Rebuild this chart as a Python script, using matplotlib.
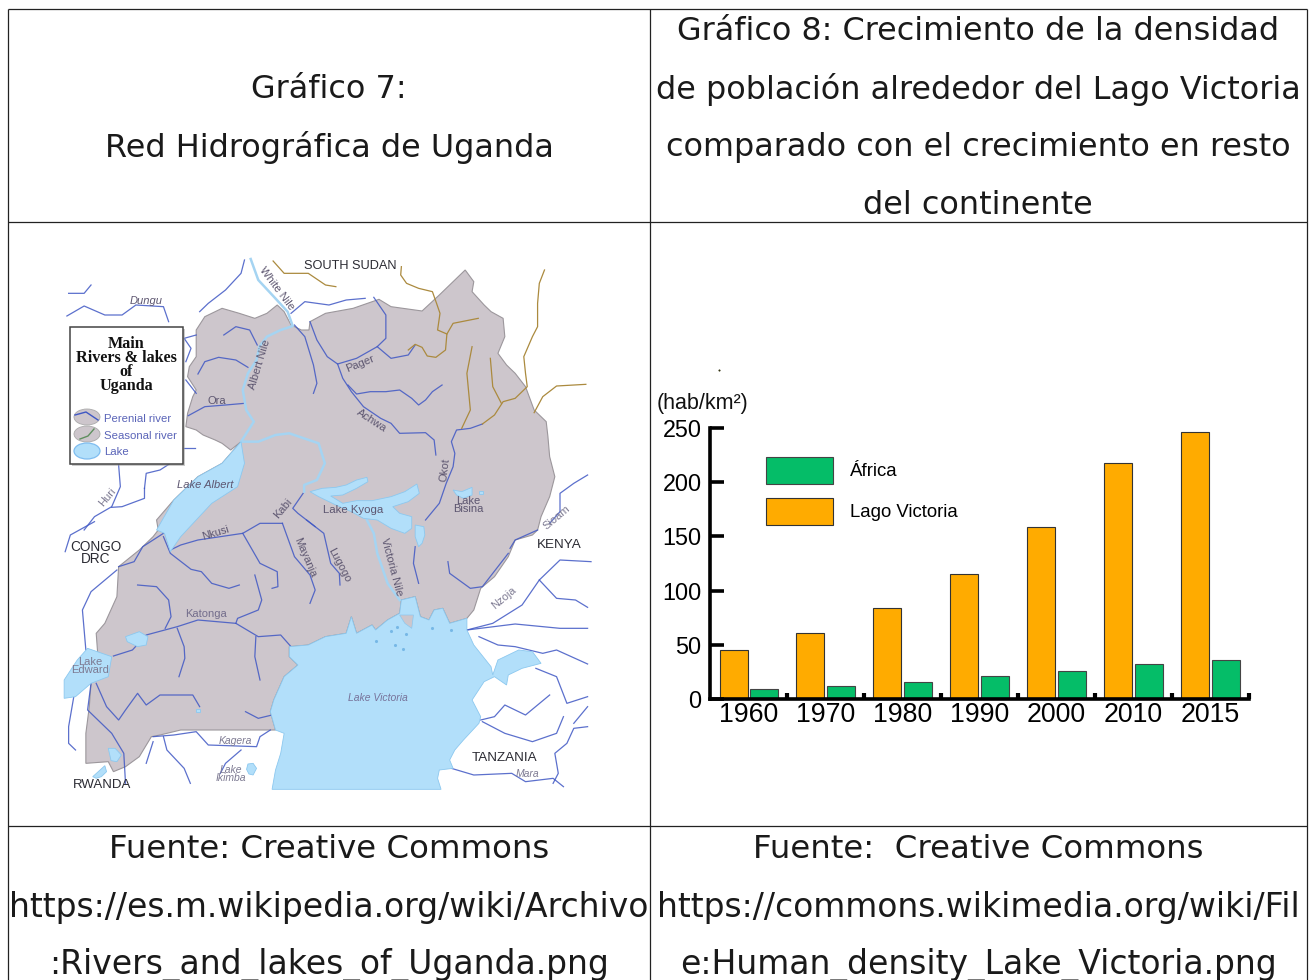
import matplotlib
matplotlib.use("Agg")
import matplotlib.pyplot as plt
from matplotlib.patches import Polygon, Rectangle, Ellipse

W, H = 1309, 980
SX = 2.9
SY = 3.0

# ---------------- chart data ----------------
years = ["1960", "1970", "1980", "1990", "2000", "2010", "2015"]
lago_victoria = [45, 61, 84, 115, 159, 218, 246]
africa = [9, 12, 16, 21, 26, 32, 36]
y_ticks = [0, 50, 100, 150, 200, 250]

title_left = ["Gráfico 7:", "Red Hidrográfica de Uganda"]
title_right = ["Gráfico 8: Crecimiento de la densidad",
               "de población alrededor del Lago Victoria",
               "comparado con el crecimiento en resto",
               "del continente"]
source_left = ["Fuente: Creative Commons",
               "https://es.m.wikipedia.org/wiki/Archivo",
               ":Rivers_and_lakes_of_Uganda.png"]
source_right = ["Fuente:  Creative Commons",
                "https://commons.wikimedia.org/wiki/Fil",
                "e:Human_density_Lake_Victoria.png"]
source_sizes = [23.3, 23.75, 23.75]

# ---------------- map geometry ----------------
def n(pts):
    return [(60 + x / SX, 250 + y / SY) for x, y in pts]

def s(pts):
    return [(60 + x / SX, 520 + y / SY) for x, y in pts]

land = n([(525,575),(495,600),(470,580),(450,570),(415,555),(395,540),(365,530),(370,490),(385,440),
          (395,420),(370,380),(375,350),(395,320),(395,270),(395,240),(420,200),(470,175),(520,190),
          (565,205),(600,190),(630,165),(650,185),(670,225),(700,240),(722,240),(725,215),(770,190),
          (850,175),(925,148),(960,170),(1050,183),(1100,135),(1175,60),(1200,95),(1195,125),(1230,165),
          (1250,185),(1285,205),(1290,260),(1270,310),(1295,345),(1320,370),(1350,410),(1375,480),
          (1410,515),(1415,560),(1420,620),(1435,680),(1420,740),(1395,800)]) + \
       s([(1385,30),(1370,45),(1320,60),(1300,110),(1260,170),(1220,205),(1200,270),(1180,295),
          (1130,310),(1110,265),(1085,270),(1070,300),(1045,290),(1030,230),(990,240),(985,280),
          (950,300),(915,330),(905,315),(860,340),(845,290),(830,340),(770,350),(720,375),(665,380),
          (665,410),(690,435),(650,470),(620,540),(610,575),(625,630),(350,630),(290,645),(265,650),
          (230,710),(190,740),(155,755),(140,725),(75,730),(75,640),(85,560),(90,490),(110,410),
          (105,340),(130,310),(165,230),(170,140),(230,90),(270,50),(285,30),(280,0)]) + \
       n([(330,750),(400,680),(470,640)])

lakes = [
    n([(525,575),(535,640),(515,710),(440,760),(395,810),(350,860),(320,905),(303,850),
       (280,840),(330,750),(400,680),(470,640)]),
    s([(1180,295),(1180,330),(1200,375),(1250,440),(1255,465),(1270,420),(1330,390),(1370,395),
       (1395,430),(1340,445),(1300,465),(1295,495),(1260,470),(1230,485),(1195,540),(1220,590),
       (1215,610),(1170,660),(1145,690),(1130,720),(1140,745),(1100,750),(1095,775),(1105,808),
       (615,808),(625,750),(640,700),(650,640),(625,630),(610,575),(620,540),(650,470),(690,435),
       (665,410),(665,380),(720,375),(770,350),(830,340),(845,290),(860,340),(905,315),(915,330),
       (950,300),(985,280),(990,240),(1030,230),(1045,290),(1070,300),(1085,270),(1110,265),(1130,310)]),
    s([(12,480),(50,420),(80,385),(150,410),(140,470),(90,490),(45,530),(12,535)]),
    n([(725,725),(760,715),(800,712),(830,705),(860,690),(890,682),(893,695),(860,715),(820,735),
       (785,738),(820,760),(860,752),(905,752),(960,740),(1000,725),(1035,702),(1042,730),(1010,755),
       (965,770),(985,790),(1020,800),(1020,835),(1000,850),(960,835),(920,810),(880,805),(845,785),
       (800,765),(750,740)]),
    n([(1140,720),(1165,725),(1195,712),(1195,735),(1170,745),(1150,735)]),
    n([(1215,722),(1227,722),(1227,733),(1215,733)]),
    s([(190,350),(230,335),(255,350),(250,375),(225,380),(195,365)]),
    s([(140,685),(160,685),(178,705),(165,725),(148,722)]),
    s([(95,770),(130,737),(135,755),(120,770),(105,775)]),
    s([(545,732),(560,730),(570,745),(560,765),(548,762),(541,748)]),
    s([(1030,15),(1055,20),(1058,45),(1050,70),(1040,80),(1030,50)]),
    s([(393,566),(405,566),(405,575),(393,575)]),
]
islands = [s([(985,285),(1025,285),(1020,325),(1000,310)])]
lake_dots = s([(917,362),(972,375),(995,387),(1002,343),(978,322),(960,333),(1080,325),(1135,330)])

nile = [
    n([(553,27),(575,90),(620,140),(660,185),(675,228),(640,240),(600,260),(578,290),(570,330),(545,370),
       (530,420),(540,480),(562,515),(525,575),(575,575),(625,555),(665,550),(750,580),(768,640),
       (745,690),(708,705),(708,725)]),
    s([(890,0),(910,40),(920,100),(950,190),(985,240)]),
]
perennial = [
    n([(535,30),(525,70),(480,120),(430,160),(405,185)]),
    n([(25,130),(70,130),(90,105)]),
    n([(20,198),(70,168),(130,195),(180,195),(220,165),(300,170),(315,215)]),
    n([(670,190),(710,155),(780,165),(830,150),(885,145)]),
    n([(910,142),(945,195),(945,265),(920,290),(860,325),(805,342),(775,320),(745,270),(725,215)]),
    n([(920,290),(960,325),(1010,315),(1030,285)]),
    n([(680,225),(710,260),(735,345),(745,400),(735,430)]),
    n([(475,255),(510,230),(550,240),(572,285)]),
    n([(400,372),(420,335),(460,322),(510,330),(545,352)]),
    n([(372,497),(420,470),(480,465),(535,460)]),
    n([(805,342),(820,385),(845,425),(880,470),(930,505),(960,520),(985,550),(1060,548),(1085,570),(1090,615)]),
    n([(835,405),(860,432),(900,425),(945,425),(985,420),(1020,445),(1040,465),(1060,450),(1080,425),(1108,405)]),
    n([(1225,522),(1190,535),(1150,540),(1135,575),(1145,610),(1140,650),(1120,700),(1100,760),(1060,810)]),
    n([(395,255),(360,265),(380,295),(365,335)]),
    n([(365,390),(395,430)]),
    n([(360,595),(392,595)]),
    n([(170,645),(175,710),(150,770),(100,800),(70,840)]),
    n([(245,715),(250,670),(290,660),(320,640)]),
    n([(245,715),(245,745),(180,770),(150,772)]),
    n([(1530,675),(1490,700),(1450,730),(1450,785),(1420,820)]),
    n([(705,730),(675,775),(690,790),(740,830)]),
    s([(15,95),(30,45),(100,5)]),
    s([(170,140),(215,125),(240,80),(300,40)]),
    s([(165,150),(90,215),(65,270),(75,390)]),
    s([(300,50),(320,100),(380,148),(410,155),(440,190),(490,205),(520,195)]),
    s([(320,90),(350,75),(400,60),(530,40),(580,10),(645,10)]),
    s([(530,40),(580,130),(630,155),(632,200),(615,205)]),
    s([(645,10),(680,110),(725,165),(740,210),(725,250)]),
    s([(715,0),(765,40),(785,130),(810,160),(812,195)]),
    s([(565,165),(585,240),(575,270),(515,295),(510,310)]),
    s([(225,195),(280,200),(315,240),(322,290),(305,325)]),
    s([(155,408),(210,390),(250,345),(340,320),(400,300),(510,310),(575,350),(640,345),(670,380)]),
    s([(340,325),(360,380),(362,415),(345,470)]),
    s([(568,350),(565,410),(580,480)]),
    s([(105,490),(135,560),(170,600),(190,570),(225,520),(250,555),(290,525),(385,525),(405,560)]),
    s([(90,490),(80,570),(150,640),(185,700),(190,790)]),
    s([(538,575),(575,595),(615,585)]),
    s([(40,530),(25,620),(25,670),(45,690)]),
    s([(270,650),(330,645),(395,635),(430,675),(570,680),(580,650),(610,630)]),
    s([(300,650),(310,690),(360,745),(378,790)]),
    s([(270,665),(250,730)]),
    s([(525,690),(480,730),(465,760)]),
    s([(1030,80),(1025,130),(1040,190)]),
    s([(1125,125),(1130,160),(1190,205),(1225,200),(1300,100)]),
    s([(1385,30),(1320,60),(1305,85)]),
    s([(1180,330),(1255,310),(1340,255),(1390,180),(1450,120),(1540,125)]),
    s([(1390,180),(1440,235),(1495,240),(1530,262)]),
    s([(1180,330),(1320,312),(1450,325),(1530,325)]),
    s([(1215,350),(1270,375),(1320,380),(1400,400),(1440,390),(1530,432)]),
    s([(1380,445),(1440,470),(1470,550),(1530,530)]),
    s([(1220,600),(1260,590),(1290,555),(1350,585),(1420,525)]),
    s([(1225,605),(1290,640),(1370,665),(1440,640),(1460,590)]),
    s([(1530,620),(1490,625),(1470,670),(1435,700),(1445,760),(1430,790)]),
    s([(1530,560),(1490,610)]),
    s([(1135,745),(1200,765),(1310,760),(1350,785),(1430,775),(1460,800)]),
]
seasonal = [
    n([(618,33),(650,70),(720,70),(770,105),(800,110)]),
    n([(990,50),(988,75),(1005,100),(1040,115),(1080,125),(1092,160),(1102,190),(1095,240),(1122,252),
       (1118,300),(1090,322),(1065,318),(1050,292),(1030,283),(1010,300)]),
    n([(1122,252),(1140,220),(1213,205)]),
    n([(1405,60),(1390,100),(1385,160),(1385,230),(1370,260),(1345,320),(1350,370),(1355,410),(1320,445),
       (1285,455),(1260,495),(1225,522)]),
    n([(1195,290),(1180,370),(1190,480),(1165,535)]),
    n([(1248,325),(1255,410),(1280,460)]),
    n([(1375,488),(1400,440),(1440,408),(1525,403)]),
]

# (x, y, text, rotation, size, style, colour)
map_labels = [
    (350, 266, "SOUTH SUDAN", 0, 9.2, "normal", "#2b2b33"),
    (277, 289, "White Nile", -53, 8, "normal", "#5d5670"),
    (146, 301, "Dungu", 0, 8, "italic", "#5d5670"),
    (260, 364, "Albert Nile", 73, 8, "normal", "#5d5670"),
    (360, 364, "Pager", 22, 8, "normal", "#5d5670"),
    (217, 401, "Ora", 0, 8, "normal", "#5d5670"),
    (372, 421, "Achwa", -33, 8, "normal", "#5d5670"),
    (445, 470, "Okot", 83, 8, "normal", "#5d5670"),
    (205, 485, "Lake Albert", 0, 8, "italic", "#5d5670"),
    (107, 497, "Huri", 50, 8, "normal", "#7d7a92"),
    (353, 510, "Lake Kyoga", 0, 8.2, "normal", "#5d5670"),
    (468, 505, "Lake\nBisina", 0, 8, "normal", "#5d5670"),
    (557, 518, "Sioam", 40, 8, "normal", "#7d7a92"),
    (283, 509, "Kabi", 50, 8, "normal", "#5d5670"),
    (216, 533, "Nkusi", 17, 8, "normal", "#5d5670"),
    (96, 553, "CONGO\nDRC", 0, 9.8, "normal", "#2b2b33"),
    (559, 545, "KENYA", 0, 9.7, "normal", "#2b2b33"),
    (305, 557, "Mayanja", -67, 8, "normal", "#5d5670"),
    (339, 565, "Lugogo", -62, 8, "normal", "#5d5670"),
    (392, 567, "Victoria Nile", -75, 8, "normal", "#5d5670"),
    (504, 598, "Nzoja", 40, 8, "normal", "#7d7a92"),
    (206, 614, "Katonga", 0, 8, "normal", "#736d8c"),
    (90, 666, "Lake\nEdward", 0, 8, "normal", "#7d7a92"),
    (378, 698, "Lake Victoria", 0, 7.5, "italic", "#77739a"),
    (235, 741, "Kagera", 0, 7.5, "italic", "#7d7a92"),
    (231, 774, "Lake\nIkimba", 0, 7.5, "italic", "#7d7a92"),
    (505, 758, "TANZANIA", 0, 9.7, "normal", "#2b2b33"),
    (528, 774, "Mara", 0, 7.5, "italic", "#7d7a92"),
    (102, 785, "RWANDA", 0, 9.5, "normal", "#2b2b33"),
]

# ---------------- figure ----------------
fig = plt.figure(figsize=(W / 100, H / 100), dpi=100, facecolor="white")
bg = fig.add_axes([0, 0, 1, 1])
bg.set_xlim(0, W)
bg.set_ylim(H, 0)
bg.axis("off")

# table grid
for x0, y0, x1, y1 in [(8, 9, 1307, 9), (8, 222, 1307, 222), (8, 826, 1307, 826),
                       (8, 9, 8, 980), (650, 9, 650, 980), (1307, 9, 1307, 980)]:
    bg.plot([x0, x1], [y0, y1], color="#222222", lw=0.9, solid_capstyle="butt")

CELL = dict(family="DejaVu Sans", color="#1a1a1a", ha="center", va="center")
for i, t in enumerate(title_left):
    bg.text(329, 89 + i * 58, t, fontsize=22.95, **CELL)
for i, t in enumerate(title_right):
    bg.text(978, 31 + i * 58.3, t, fontsize=22.95, **CELL)
for i, t in enumerate(source_left):
    bg.text(329, 849 + i * 58, t, fontsize=source_sizes[i], clip_on=False, **CELL)
for i, t in enumerate(source_right):
    bg.text(978, 849 + i * 58, t, fontsize=source_sizes[i], clip_on=False, **CELL)

# map
LAND, LAKE, BLUE = "#cdc6cc", "#b2dffa", "#3f57c4"
bg.add_patch(Polygon(land, closed=True, fc=LAND, ec="#9c979c", lw=0.8, zorder=2))
for p in lakes:
    bg.add_patch(Polygon(p, closed=True, fc=LAKE, ec="#8cc8ef", lw=0.6, zorder=4))
for p in islands:
    bg.add_patch(Polygon(p, closed=True, fc=LAND, ec="#8cc8ef", lw=0.5, zorder=5))
bg.scatter(*zip(*lake_dots), s=5, color="#77b8e6", linewidths=0, zorder=5)
for p in perennial:
    bg.plot(*zip(*p), color=BLUE, lw=0.9, alpha=0.85, zorder=3)
for p in seasonal:
    bg.plot(*zip(*p), color="#ab8a3e", lw=0.9, zorder=3)
for p in nile:
    bg.plot(*zip(*p), color="#a5d4f2", lw=1.8, zorder=3.5)
for x, y, t, rot, size, style, col in map_labels:
    bg.text(x, y, t, rotation=rot, fontsize=size, style=style, color=col, ha="center", va="center",
            family="Liberation Sans", linespacing=0.85, zorder=6, rotation_mode="anchor")

# map key
bg.add_patch(Rectangle((72, 329), 113, 137, fc="#999999", ec="none", alpha=0.5, zorder=6))
bg.add_patch(Rectangle((70, 327), 113, 137, fc="white", ec="#444444", lw=1.1, zorder=7))
bg.text(126, 365, "Main\nRivers & lakes\nof\nUganda", family="Liberation Serif", weight="bold",
        fontsize=11.6, color="#111111", ha="center", va="center", linespacing=0.85, zorder=8)
bg.add_patch(Ellipse((87, 417), 26, 16, fc=LAND, ec="#aaaaaa", lw=0.6, zorder=8))
bg.plot([75, 86, 98], [415, 412, 420], color=BLUE, lw=1, zorder=9)
bg.add_patch(Ellipse((87, 434), 26, 16, fc=LAND, ec="#aaaaaa", lw=0.6, zorder=8))
bg.plot([80, 88, 94], [439, 436, 429], color="#5f8f5f", lw=1, zorder=9)
bg.add_patch(Ellipse((87, 451), 26, 16, fc=LAKE, ec="#7fbdf0", lw=0.9, zorder=8))
for y, t in [(419, "Perenial river"), (435.5, "Seasonal river"), (451.5, "Lake")]:
    bg.text(104, y, t, fontsize=8.2, family="Liberation Sans", color="#5a64b8", ha="left", va="center", zorder=9)

# ---------------- bar chart ----------------
AX_L, AX_R, AX_T, AX_B = 710, 1249, 428, 699
ax = fig.add_axes([AX_L / W, 1 - AX_B / H, (AX_R - AX_L) / W, (AX_B - AX_T) / H])
ax.patch.set_alpha(0)
pos = list(range(len(years)))
b_w = 0.364
off = 0.2
b_lago = ax.bar([p - off for p in pos], lago_victoria, width=b_w, color="#ffab00",
                edgecolor="#333333", linewidth=0.8, label="Lago Victoria")
b_af = ax.bar([p + off for p in pos], africa, width=b_w, color="#05bd68",
              edgecolor="#444444", linewidth=0.8, label="África")
ax.set_xlim(-0.506, 6.494)
ax.set_ylim(0, 250)
for sp in ("top", "right"):
    ax.spines[sp].set_visible(False)
for sp in ("left", "bottom"):
    ax.spines[sp].set_linewidth(2.6)
ax.set_yticks(y_ticks)
ax.tick_params(axis="y", direction="in", length=10, width=2.6, pad=6, labelsize=16.8)
ax.set_xticks(pos)
ax.set_xticklabels(years, family="Liberation Sans", fontsize=19.3)
ax.tick_params(axis="x", length=0, pad=2.5)
for lab in ax.get_yticklabels():
    lab.set_family("Liberation Sans")
ax.set_xticks([p + 0.5 for p in pos], minor=True)
ax.tick_params(axis="x", which="minor", direction="in", length=4, width=3)

leg = ax.legend([b_af, b_lago], ["África", "Lago Victoria"], loc="upper left",
                bbox_to_anchor=(766 / W, 1 - 457 / H), bbox_transform=fig.transFigure,
                frameon=False, prop={"family": "Liberation Sans", "size": 13.4},
                borderpad=0, borderaxespad=0, handlelength=3.6, handleheight=1.856,
                handletextpad=0.9, labelspacing=0.75)

bg.text(657, 403, "(hab/km²)", family="Liberation Sans", fontsize=15.5, color="#111111", ha="left", va="center")
bg.plot([719], [370], marker="s", ms=0.5, color="#333311")

fig.savefig("out.png", dpi=100)
